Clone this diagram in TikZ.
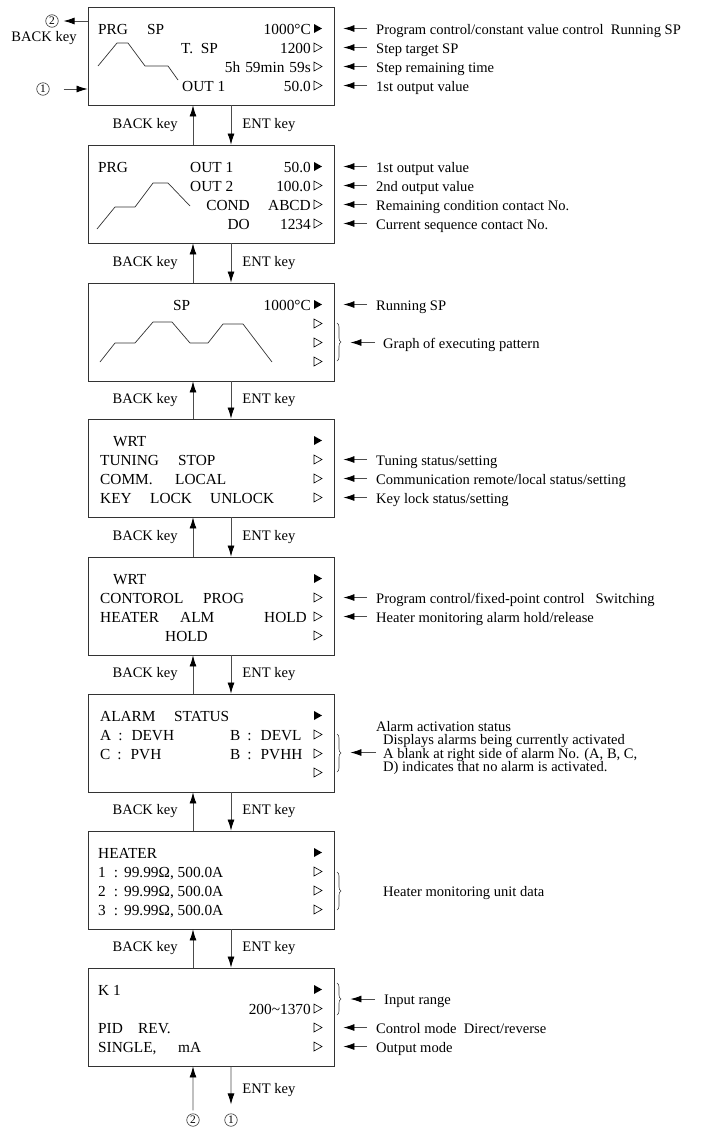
\documentclass[tikz,border=0pt]{standalone}
\usepackage{fontspec}
\setmainfont{Liberation Serif}
\usetikzlibrary{arrows.meta,positioning,decorations.pathreplacing}

\begin{document}
\begin{tikzpicture}[x=1bp, y=-1bp,
  font=\fontsize{14.6}{17}\selectfont,
  screen/.style={draw=black!80, line width=0.9bp, minimum width=246bp,
                 minimum height=98bp, inner sep=0pt},
  lbl/.style={anchor=base west, inner sep=0pt, font=\fontsize{15.4}{18}\selectfont},
  val/.style={anchor=base east, inner sep=0pt, font=\fontsize{15.4}{18}\selectfont},
  note/.style={anchor=base west, inner sep=0pt, text height=11bp, text depth=0pt},
  keyarr/.style={draw=black!70, line width=0.8bp,
                 -{Latex[length=11bp,width=7bp,black]}},
  keylbl/.style={inner sep=0pt},
  ptr/.style={keyarr, shorten <=9bp, shorten >=9bp},
  mkoff/.style={draw=black, line width=0.6bp},
  grph/.style={draw=black!80, line width=0.7bp, line join=round},
  brc/.style={draw=black!75, line width=0.6bp, decorate,
              decoration={brace, amplitude=4bp}},
  circ/.style={circle, draw=black!80, line width=0.6bp, inner sep=0pt,
               minimum size=12.5bp, font=\fontsize{11.5}{11.5}\selectfont}]

\useasboundingbox (0,0) rectangle (702,1131);

% screens and their row markers
\foreach \t [count=\i] in {7,145,283,419,557,694,831,968} {
  \node[screen] (s\i) at (211,\t+49) {};
  \fill (314,\t+17) -- ++(8,4.5) -- ++(-8,4.5) -- cycle;
  \foreach \b in {46,65,84}
    \draw[mkoff] (314,\t+\b-10) -- ++(8,4.5) -- ++(-8,4.5) -- cycle;
}

% BACK / ENT keys between screens
\foreach \a/\b in {1/2,2/3,3/4,4/5,5/6,6/7,7/8} {
  \draw[keyarr] ([xshift=-18bp]s\b.north) -- node[keylbl, left=15bp] {BACK key}
    ([xshift=-18bp]s\a.south);
  \draw[keyarr] ([xshift=20bp]s\a.south) -- node[keylbl, right=11bp] {ENT key}
    ([xshift=20bp]s\b.north);
}

% loop back
\node[circ] (t2) at (52,21) {2};
\node[keylbl, anchor=base] (t2k) at (44,41) {BACK key};
\node[circ] (t1) at (43,89) {1};
\draw[keyarr, shorten >=5bp] (t2 -| s1.west) -- (t2.east);
\draw[keyarr, shorten <=14bp] (t1.east) -- (t1 -| s1.west);
\node[circ] (b2) at (193,1120) {2};
\node[circ] (b1) at (231,1120) {1};
\draw[keyarr, shorten <=3bp] (b2.north) -- ([xshift=-18bp]s8.south);
\draw[keyarr, shorten >=9bp] ([xshift=20bp]s8.south) -- node[keylbl, right=11bp] {ENT key} (b1.north);

% screen 1
\begin{scope}[shift={(0,7)}]
  \node[lbl] at (98,27) {PRG};
  \node[lbl] at (147,27) {SP};
  \node[val] at (311,27) {1000°C};
  \node[lbl] at (181,46) {T.\ \ SP};
  \node[val] at (311,46) {1200};
  \node[val] at (311,65) {5h\hspace{5bp}59min\hspace{5bp}59s};
  \node[lbl] at (182,84) {OUT 1};
  \node[val] at (311,84) {50.0};
  \draw[grph] (98,59) -- (117,36) -- (128,36) -- (145,59) -- (168,59) -- (178,73);
\end{scope}
\node[note] (a11) at (376,34) {Program control/constant value control\ \ Running SP};
\node[note] (a12) at (376,53) {Step target SP};
\node[note] (a13) at (376,72) {Step remaining time};
\node[note] (a14) at (376,91) {1st output value};
\foreach \n in {a11,a12,a13,a14} \draw[ptr] (\n.west) -- (\n.west -| s1.east);

% screen 2
\begin{scope}[shift={(0,145)}]
  \node[lbl] at (98,27) {PRG};
  \node[lbl] at (190,27) {OUT 1};
  \node[lbl] at (190,46) {OUT 2};
  \node[val] at (250,65) {COND};
  \node[val] at (250,84) {DO};
  \node[val] at (311,27) {50.0};
  \node[val] at (311,46) {100.0};
  \node[val] at (311,65) {ABCD};
  \node[val] at (311,84) {1234};
  \draw[grph] (97,84) -- (115,62) -- (135,62) -- (153,38) -- (168,38) -- (190,61);
\end{scope}
\node[note] (a21) at (376,172) {1st output value};
\node[note] (a22) at (376,191) {2nd output value};
\node[note] (a23) at (376,210) {Remaining condition contact No.};
\node[note] (a24) at (376,229) {Current sequence contact No.};
\foreach \n in {a21,a22,a23,a24} \draw[ptr] (\n.west) -- (\n.west -| s2.east);

% screen 3
\begin{scope}[shift={(0,283)}]
  \node[lbl] at (173,27) {SP};
  \node[val] at (311,27) {1000°C};
  \draw[grph] (100,79) -- (115,60) -- (135,60) -- (153,39) -- (172,39) -- (190,60)
    -- (208,60) -- (223,41) -- (243,41) -- (272,79);
\end{scope}
\node[note] (a31) at (376,310) {Running SP};
\draw[ptr] (a31.west) -- (a31.west -| s3.east);
\draw[brc] (337,323) -- (337,361);
\node[note] (a33) at (383,348) {Graph of executing pattern};
\draw[ptr, shorten <=8bp, shorten >=16bp] (a33.west) -- (a33.west -| s3.east);

% screen 4
\begin{scope}[shift={(0,419)}]
  \node[lbl] at (113,27) {WRT};
  \node[lbl] at (100,46) {TUNING};
  \node[lbl] at (178,46) {STOP};
  \node[lbl] at (100,65) {COMM.};
  \node[lbl] at (175,65) {LOCAL};
  \node[lbl] at (100,84) {KEY};
  \node[lbl] at (150,84) {LOCK};
  \node[lbl] at (210,84) {UNLOCK};
\end{scope}
\node[note] (a42) at (376,465) {Tuning status/setting};
\node[note] (a43) at (376,484) {Communication remote/local status/setting};
\node[note] (a44) at (376,503) {Key lock status/setting};
\foreach \n in {a42,a43,a44} \draw[ptr] (\n.west) -- (\n.west -| s4.east);

% screen 5
\begin{scope}[shift={(0,557)}]
  \node[lbl] at (113,27) {WRT};
  \node[lbl] at (100,46) {CONTOROL};
  \node[lbl] at (203,46) {PROG};
  \node[lbl] at (100,65) {HEATER};
  \node[lbl] at (180,65) {ALM};
  \node[val] at (307,65) {HOLD};
  \node[lbl] at (165,84) {HOLD};
\end{scope}
\node[note] (a52) at (376,603) {Program control/fixed-point control\ \ \ Switching};
\node[note] (a53) at (376,622) {Heater monitoring alarm hold/release};
\foreach \n in {a52,a53} \draw[ptr] (\n.west) -- (\n.west -| s5.east);

% screen 6
\begin{scope}[shift={(0,694)}]
  \node[lbl] at (100,27) {ALARM};
  \node[lbl] at (174,27) {STATUS};
  \node[lbl] at (100,46) {A\hspace{7bp}:\hspace{9bp}DEVH};
  \node[lbl] at (230,46) {B\hspace{7bp}:\hspace{9bp}DEVL};
  \node[lbl] at (100,65) {C\hspace{7bp}:\hspace{9bp}PVH};
  \node[lbl] at (230,65) {B\hspace{7bp}:\hspace{9bp}PVHH};
\end{scope}
\draw[brc] (337,734) -- (337,772);
\node[note] (a61) at (376,731) {Alarm activation status};
\node[note] (a62) at (383,744.5) {Displays alarms being currently activated};
\node[note] (a63) at (383,758) {A blank at right side of alarm No. (A, B, C,};
\node[note] (a64) at (383,771.5) {D) indicates that no alarm is activated.};
\draw[ptr, shorten <=7bp, shorten >=16bp] (a63.west) -- (a63.west -| s6.east);

% screen 7
\begin{scope}[shift={(0,831)}]
  \node[lbl] at (98,27) {HEATER};
  \node[lbl] at (98,46) {1\hspace{8bp}:\hspace{6bp}99.99Ω, 500.0A};
  \node[lbl] at (98,65) {2\hspace{8bp}:\hspace{6bp}99.99Ω, 500.0A};
  \node[lbl] at (98,84) {3\hspace{8bp}:\hspace{6bp}99.99Ω, 500.0A};
\end{scope}
\draw[brc] (337,872) -- (337,910);
\node[note] (a73) at (383,896) {Heater monitoring unit data};

% screen 8
\begin{scope}[shift={(0,968)}]
  \node[lbl] at (98,27) {K 1};
  \node[val] at (311,46) {200\textasciitilde1370};
  \node[lbl] at (98,65) {PID};
  \node[lbl] at (138,65) {REV.};
  \node[lbl] at (98,84) {SINGLE,};
  \node[lbl] at (178,84) {mA};
\end{scope}
\draw[brc] (337,983) -- (337,1015);
\node[note] (a81) at (384,1004.5) {Input range};
\draw[ptr, shorten <=9bp, shorten >=16bp] (a81.west) -- (a81.west -| s8.east);
\node[note] (a83) at (376,1033) {Control mode\ \ Direct/reverse};
\node[note] (a84) at (376,1052) {Output mode};
\foreach \n in {a83,a84} \draw[ptr] (\n.west) -- (\n.west -| s8.east);

\end{tikzpicture}
\end{document}
